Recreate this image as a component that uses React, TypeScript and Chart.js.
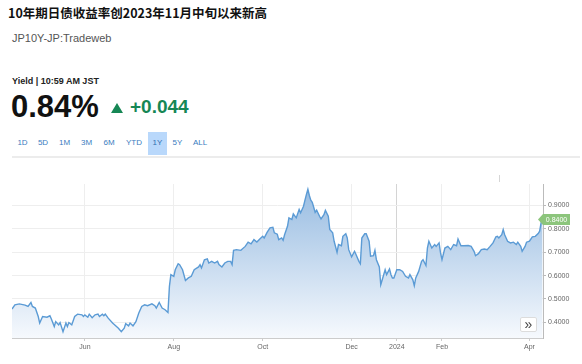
import React, { useEffect, useRef } from "react";
import { Chart, registerables } from "chart.js";

Chart.register(...registerables);

const TITLE = "10年期日债收益率创2023年11月中旬以来新高";
const SYMBOL = "JP10Y-JP:Tradeweb";
const QUOTE_TIME = "Yield | 10:59 AM JST";
const LAST_YIELD = "0.84%";
const CHANGE = "+0.044";
const LAST_BADGE = "0.8400";
const rangeButtons = ["1D", "5D", "1M", "3M", "6M", "YTD", "1Y", "5Y", "ALL"];
const activeRange = "1Y";

const START_DATE = "2023-04-12";
const dayOffsets = [
  0, 2, 5, 9, 11, 13, 14, 16, 18, 19, 21, 24, 26, 27, 29, 30, 32, 33, 35, 37,
  38, 39, 41, 43, 45, 48, 49, 50, 52, 53, 55, 57, 59, 60, 62, 63, 64, 66, 69, 73,
  75, 77, 78, 80, 81, 83, 85, 87, 89, 91, 93, 96, 98, 99, 101, 103, 105, 107, 108, 109,
  111, 112, 114, 115, 117, 119, 121, 123, 125, 128, 129, 130, 132, 134, 135, 137, 139, 141, 142, 144,
  146, 148, 150, 151, 152, 154, 157, 160, 162, 164, 166, 168, 170, 172, 173, 175, 177, 179, 180, 182,
  183, 185, 186, 187, 189, 190, 192, 193, 195, 197, 198, 200, 201, 202, 203, 204, 205, 206, 208, 209,
  211, 212, 214, 215, 217, 218, 220, 221, 223, 224, 226, 227, 229, 230, 231, 233, 235, 236, 238, 239,
  240, 242, 243, 245, 246, 248, 249, 250, 252, 253, 254, 256, 257, 259, 260, 261, 262, 264, 266, 268,
  270, 272, 273, 275, 276, 277, 279, 281, 282, 284, 285, 286, 288, 290, 291, 293, 294, 295, 297, 299,
  301, 303, 305, 306, 308, 310, 313, 315, 317, 318, 320, 322, 324, 326, 328, 330, 332, 333, 334, 336,
  337, 338, 340, 342, 344, 346, 347, 349, 350, 352, 353, 355, 357, 359, 361, 362, 363, 364,
];
const yields = [
  0.457, 0.475, 0.479, 0.474, 0.468, 0.485, 0.468, 0.461, 0.425, 0.397, 0.425, 0.422, 0.428, 0.414, 0.382, 0.403, 0.389, 0.399, 0.36, 0.397,
  0.382, 0.399, 0.389, 0.425, 0.435, 0.432, 0.425, 0.432, 0.422, 0.435, 0.42, 0.432, 0.435, 0.425, 0.435, 0.428, 0.435, 0.418, 0.397, 0.375,
  0.36, 0.375, 0.394, 0.385, 0.397, 0.385, 0.403, 0.44, 0.468, 0.475, 0.471, 0.479, 0.471, 0.461, 0.485, 0.461, 0.454, 0.442, 0.554, 0.604,
  0.597, 0.625, 0.651, 0.647, 0.625, 0.579, 0.59, 0.597, 0.625, 0.637, 0.647, 0.633, 0.668, 0.672, 0.654, 0.661, 0.654, 0.661, 0.647, 0.637,
  0.654, 0.661, 0.661, 0.647, 0.708, 0.711, 0.708, 0.725, 0.743, 0.736, 0.754, 0.744, 0.757, 0.768, 0.761, 0.785, 0.804, 0.807, 0.783, 0.777,
  0.754, 0.761, 0.751, 0.775, 0.811, 0.847, 0.84, 0.864, 0.847, 0.883, 0.869, 0.897, 0.923, 0.947, 0.969, 0.943, 0.923, 0.914, 0.871, 0.88,
  0.854, 0.843, 0.861, 0.879, 0.854, 0.797, 0.783, 0.747, 0.7, 0.733, 0.728, 0.768, 0.779, 0.761, 0.711, 0.68, 0.704, 0.69, 0.661, 0.651,
  0.761, 0.779, 0.779, 0.747, 0.683, 0.685, 0.708, 0.668, 0.637, 0.561, 0.582, 0.625, 0.604, 0.628, 0.604, 0.59, 0.59, 0.625, 0.625, 0.618,
  0.597, 0.59, 0.604, 0.582, 0.557, 0.59, 0.618, 0.661, 0.668, 0.643, 0.718, 0.747, 0.718, 0.733, 0.725, 0.74, 0.697, 0.668, 0.718, 0.725,
  0.711, 0.733, 0.728, 0.757, 0.728, 0.728, 0.729, 0.725, 0.704, 0.685, 0.694, 0.711, 0.714, 0.711, 0.725, 0.74, 0.766, 0.768, 0.761, 0.775,
  0.797, 0.775, 0.747, 0.74, 0.743, 0.733, 0.743, 0.725, 0.704, 0.725, 0.743, 0.747, 0.766, 0.768, 0.78, 0.79, 0.826, 0.84,
];

const xTickDates = ["2023-06-01", "2023-08-01", "2023-10-01", "2023-12-01", "2024-01-01", "2024-02-01", "2024-04-01"];
const xTickLabels = ["Jun", "Aug", "Oct", "Dec", "2024", "Feb", "Apr"];
const yearTickLabel = "2024";
const yTickValues = [0.4, 0.5, 0.6, 0.7, 0.8, 0.9];

const dayOf = (d: string) => (Date.parse(d) - Date.parse(START_DATE)) / 86400000;
const xTickDays = xTickDates.map(dayOf);

const FONT = '"Liberation Sans", Arial, sans-serif';

const badgePlugin = {
  id: "lastBadge",
  afterDraw(chart: any) {
    const ys = chart.scales.y;
    const area = chart.chartArea;
    const v = yields[yields.length - 1];
    const y = ys.getPixelForValue(v);
    const c = chart.ctx;
    const tip = area.right - 5;
    const w = 27;
    const h = 11;
    c.save();
    c.fillStyle = "#8cc57c";
    c.beginPath();
    c.moveTo(tip, y);
    c.lineTo(tip + 5, y - h / 2);
    c.lineTo(tip + 5 + w, y - h / 2);
    c.lineTo(tip + 5 + w, y + h / 2);
    c.lineTo(tip + 5, y + h / 2);
    c.closePath();
    c.fill();
    c.fillStyle = "#ffffff";
    c.font = `7px ${FONT}`;
    c.textAlign = "center";
    c.textBaseline = "middle";
    c.fillText(LAST_BADGE, tip + 5 + w / 2, y + 0.5);
    c.restore();
  },
};

function YieldChart() {
  const ref = useRef<HTMLCanvasElement | null>(null);
  useEffect(() => {
    if (!ref.current) return;
    const chart = new Chart(ref.current, {
      type: "line",
      data: {
        datasets: [
          {
            data: dayOffsets.map((d, i) => ({ x: d, y: yields[i] })),
            borderColor: "#5b9bd5",
            borderWidth: 1.4,
            pointRadius: 0,
            tension: 0,
            fill: "start",
            backgroundColor: (ctx: any) => {
              const a = ctx.chart.chartArea;
              if (!a) return "rgba(0,0,0,0)";
              const g = ctx.chart.ctx.createLinearGradient(0, a.top, 0, a.bottom);
              g.addColorStop(0, "rgb(150,187,225)");
              g.addColorStop(1, "rgb(246,249,253)");
              return g;
            },
          },
        ],
      },
      options: {
        responsive: false,
        animation: false,
        events: [],
        layout: { padding: { left: 12, top: 24, right: 0, bottom: 0 } },
        plugins: { legend: { display: false }, tooltip: { enabled: false } },
        scales: {
          x: {
            type: "linear",
            min: 0,
            max: 364.3,
            afterBuildTicks: (s: any) => {
              s.ticks = xTickDays.map((v) => ({ value: v }));
            },
            afterFit: (s: any) => {
              s.height = 26;
            },
            ticks: {
              autoSkip: false,
              maxRotation: 0,
              padding: 2,
              color: "#666",
              font: { size: 7, family: FONT },
              callback: (v: any) => {
                const i = xTickDays.findIndex((d) => Math.abs(d - Number(v)) < 0.01);
                return i >= 0 ? xTickLabels[i] : "";
              },
            },
            grid: {
              color: (ctx: any) =>
                ctx.tick && xTickLabels[xTickDays.findIndex((d) => Math.abs(d - ctx.tick.value) < 0.01)] === yearTickLabel
                  ? "#d4d4d4"
                  : "#eeeeee",
              tickLength: 3,
              tickColor: "#cccccc",
            },
            border: { color: "#cccccc" },
          },
          y: {
            position: "right",
            min: 0.333,
            max: 0.992,
            afterBuildTicks: (s: any) => {
              s.ticks = yTickValues.map((v) => ({ value: v }));
            },
            afterFit: (s: any) => {
              s.width = 39;
            },
            ticks: {
              padding: 2,
              color: "#666",
              font: { size: 7, family: FONT },
              callback: (v: any) => Number(v).toFixed(4),
            },
            grid: { color: "#eeeeee", tickLength: 3, tickColor: "#bbbbbb" },
            border: { color: "#bbbbbb" },
          },
        },
      },
      plugins: [badgePlugin],
    } as any);
    return () => chart.destroy();
  }, []);
  return (
    <canvas
      ref={ref}
      width={582}
      height={204}
      style={{ position: "absolute", left: 0, top: 160, width: 582, height: 204 }}
    />
  );
}

const buttonCenters = [22.5, 43, 64.5, 86.5, 109, 134, 157.5, 177.5, 200];

export default function App() {
  const green = "rgb(22,135,85)";
  return (
    <div style={{ position: "absolute", left: 0, top: 0, width: 582, height: 364, background: "#fff", overflow: "hidden", fontFamily: FONT }}>
      <div style={{ position: "absolute", left: 8, top: 4, fontFamily: '"Noto Sans CJK SC", sans-serif', fontWeight: 700, fontSize: 12.5, lineHeight: "18px", color: "#111", whiteSpace: "nowrap" }}>
        {TITLE}
      </div>
      <div style={{ position: "absolute", left: 12, top: 31, fontSize: 11, lineHeight: "14px", color: "#555", whiteSpace: "nowrap" }}>
        {SYMBOL}
      </div>
      <div style={{ position: "absolute", left: 12, top: 76, fontSize: 9, fontWeight: 700, lineHeight: "10px", color: "#222", whiteSpace: "nowrap" }}>
        {QUOTE_TIME}
      </div>
      <div style={{ position: "absolute", left: 11, top: 91, fontSize: 31, fontWeight: 700, lineHeight: "31px", color: "#111", whiteSpace: "nowrap" }}>
        {LAST_YIELD}
      </div>
      <div style={{ position: "absolute", left: 111, top: 103, width: 0, height: 0, borderLeft: "6px solid transparent", borderRight: "6px solid transparent", borderBottom: `10px solid ${green}` }} />
      <div style={{ position: "absolute", left: 130, top: 97, fontSize: 19, fontWeight: 700, lineHeight: "19px", color: green, whiteSpace: "nowrap" }}>
        {CHANGE}
      </div>
      <div style={{ position: "absolute", left: 148, top: 132, width: 19, height: 23, background: "#b9d8fb" }} />
      {rangeButtons.map((b, i) => (
        <div
          key={b}
          style={{ position: "absolute", left: buttonCenters[i] - 15, width: 30, top: 138, fontSize: 8, lineHeight: "10px", textAlign: "center", color: b === activeRange ? "#2f6fb0" : "#3a7cc0" }}
        >
          {b}
        </div>
      ))}
      <div style={{ position: "absolute", left: 12, top: 156, width: 568, height: 2, background: "#ececec" }} />
      <YieldChart />
      <div style={{ position: "absolute", left: 499, top: 175, width: 1, height: 7, background: "#d6d6d6" }} />
      <div style={{ position: "absolute", left: 520, top: 317, width: 17, height: 15, boxSizing: "border-box", border: "1px solid #dcdcdc", borderRadius: 2, background: "#fff", fontSize: 14, lineHeight: "12px", textAlign: "center", color: "#444" }}>
        »
      </div>
    </div>
  );
}
